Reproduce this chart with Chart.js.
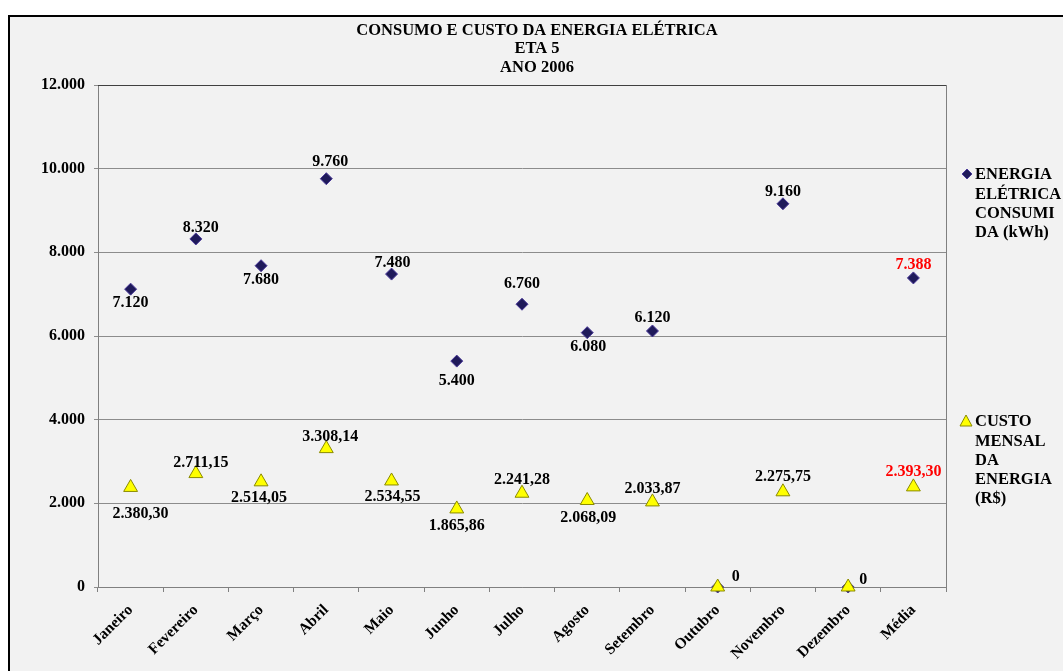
<!DOCTYPE html>
<html>
<head>
<meta charset="utf-8">
<script src="https://cdn.jsdelivr.net/npm/chart.js@4/dist/chart.umd.min.js"></script>
<style>
  html, body { margin: 0; padding: 0; background: #ffffff; overflow: hidden; }
  canvas { display: block; }
</style>
</head>
<body>
<canvas id="c" width="1063" height="671"></canvas>
<script>
const titleLines = ['CONSUMO E CUSTO DA ENERGIA ELÉTRICA', 'ETA 5', 'ANO 2006'];
const categories = ['Janeiro', 'Fevereiro', 'Março', 'Abril', 'Maio', 'Junho', 'Julho', 'Agosto', 'Setembro', 'Outubro', 'Novembro', 'Dezembro', 'Média'];
const energiaLabel = ['ENERGIA', 'ELÉTRICA', 'CONSUMI', 'DA (kWh)'];
const custoLabel = ['CUSTO', 'MENSAL', 'DA', 'ENERGIA', '(R$)'];
const energia = [7120, 8320, 7680, 9760, 7480, 5400, 6760, 6080, 6120, 0, 9160, 0, 7388];
const custo = [2380.30, 2711.15, 2514.05, 3308.14, 2534.55, 1865.86, 2241.28, 2068.09, 2033.87, 0, 2275.75, 0, 2393.30];
const yMin = 0, yMax = 12000, yStep = 2000;

function fmtThousands(n) {
  return String(Math.round(n)).replace(/\B(?=(\d{3})+(?!\d))/g, '.');
}
function fmtMoney(n) {
  if (n === 0) return '0';
  const parts = n.toFixed(2).split('.');
  return parts[0].replace(/\B(?=(\d{3})+(?!\d))/g, '.') + ',' + parts[1];
}

const SERIF = '"Liberation Serif", "Times New Roman", serif';

// label offsets relative to the point (style only)
const energiaOffsets = [[0,14],[5,-11],[0,14],[4,-17],[1,-11],[0,20],[0,-20],[1,14],[0,-13],null,[0,-12],null,[0,-13]];
const custoOffsets = [[10,26],[5,-11],[-2,16],[4,-12],[1,16],[0,17],[0,-13],[1,17],[0,-13],[18,-10],[0,-15],[15,-7],[0,-15]];

const framePlugin = {
  id: 'frame',
  beforeDraw(chart) {
    const ctx = chart.ctx;
    ctx.save();
    ctx.fillStyle = '#ffffff';
    ctx.fillRect(0, 0, chart.width, chart.height);
    ctx.fillStyle = '#f2f2f2';
    ctx.fillRect(9, 16, chart.width, chart.height);
    ctx.strokeStyle = '#000000';
    ctx.lineWidth = 2;
    ctx.beginPath();
    ctx.moveTo(9, chart.height + 5);
    ctx.lineTo(9, 16);
    ctx.lineTo(chart.width + 5, 16);
    ctx.stroke();
    ctx.restore();
  },
  afterDraw(chart) {
    const ctx = chart.ctx;
    ctx.save();
    // Title
    ctx.fillStyle = '#000000';
    ctx.font = 'bold 16.5px ' + SERIF;
    ctx.textAlign = 'center';
    ctx.textBaseline = 'middle';
    const ty = [31, 49, 68];
    titleLines.forEach((t, i) => ctx.fillText(t, 537, ty[i]));
    // Plot border right and top
    const a = chart.chartArea;
    ctx.lineWidth = 1;
    ctx.strokeStyle = '#808080';
    ctx.beginPath();
    ctx.moveTo(Math.round(a.right) + 0.5, a.top);
    ctx.lineTo(Math.round(a.right) + 0.5, a.bottom);
    ctx.stroke();
    ctx.strokeStyle = '#404040';
    ctx.beginPath();
    ctx.moveTo(a.left, Math.round(a.top) + 0.5);
    ctx.lineTo(a.right, Math.round(a.top) + 0.5);
    ctx.stroke();
    // Legend
    ctx.font = 'bold 16.5px ' + SERIF;
    ctx.textAlign = 'left';
    // diamond
    ctx.fillStyle = '#1f1a5a';
    ctx.strokeStyle = '#4b3a9a';
    ctx.beginPath();
    ctx.moveTo(967, 169); ctx.lineTo(972, 174); ctx.lineTo(967, 179); ctx.lineTo(962, 174); ctx.closePath();
    ctx.fill(); ctx.stroke();
    ctx.fillStyle = '#000000';
    energiaLabel.forEach((t, i) => ctx.fillText(t, 975, 175 + i * 19.3));
    // triangle
    ctx.fillStyle = '#ffff00';
    ctx.strokeStyle = '#8a8a00';
    ctx.beginPath();
    ctx.moveTo(966, 415); ctx.lineTo(972, 426); ctx.lineTo(960, 426); ctx.closePath();
    ctx.fill(); ctx.stroke();
    ctx.fillStyle = '#000000';
    custoLabel.forEach((t, i) => ctx.fillText(t, 975, 422 + i * 19.3));
    ctx.restore();
  },
  afterDatasetsDraw(chart) {
    const ctx = chart.ctx;
    ctx.save();
    ctx.font = 'bold 16px ' + SERIF;
    ctx.textAlign = 'center';
    ctx.textBaseline = 'middle';
    chart.data.datasets.forEach((ds, di) => {
      const meta = chart.getDatasetMeta(di);
      const offs = ds.labelOffsets;
      meta.data.forEach((pt, i) => {
        const o = offs[i];
        if (!o) return;
        const v = ds.data[i];
        const txt = ds.fmt(v);
        ctx.fillStyle = (i === ds.data.length - 1) ? '#ff0000' : '#000000';
        ctx.fillText(txt, pt.x + o[0], pt.y + o[1]);
      });
    });
    ctx.restore();
  }
};

new Chart(document.getElementById('c'), {
  type: 'line',
  data: {
    labels: categories,
    datasets: [
      {
        label: energiaLabel.join(' '),
        data: energia,
        showLine: false,
        pointStyle: 'rectRot',
        pointRadius: 6,
        pointHoverRadius: 6,
        backgroundColor: '#1f1a5a',
        borderColor: '#4b3a9a',
        pointBorderWidth: 1,
        order: 1,
        clip: false,
        labelOffsets: energiaOffsets,
        fmt: fmtThousands
      },
      {
        label: custoLabel.join(' '),
        data: custo,
        showLine: false,
        pointStyle: 'triangle',
        pointRadius: 8,
        pointHoverRadius: 8,
        backgroundColor: '#ffff00',
        borderColor: '#8a8a00',
        pointBorderWidth: 1,
        order: 0,
        clip: false,
        labelOffsets: custoOffsets,
        fmt: fmtMoney
      }
    ]
  },
  options: {
    responsive: false,
    animation: false,
    devicePixelRatio: 1,
    layout: { padding: { left: 21, right: 117, top: 85, bottom: 0 } },
    plugins: {
      legend: { display: false },
      title: { display: false },
      tooltip: { enabled: false }
    },
    scales: {
      x: {
        offset: true,
        grid: { offset: true, drawOnChartArea: false, drawTicks: true, tickLength: 5, color: '#808080' },
        border: { color: '#808080', width: 1 },
        ticks: {
          color: '#000000',
          font: { family: SERIF, size: 15.5, weight: 'bold' },
          maxRotation: 45, minRotation: 45, padding: 9, autoSkip: false
        },
        afterFit(s) { s.height = 84; }
      },
      y: {
        min: yMin, max: yMax,
        grid: { color: '#8c8c8c', tickLength: 4, drawTicks: true },
        border: { color: '#808080', width: 1 },
        ticks: {
          stepSize: yStep,
          color: '#000000',
          font: { family: SERIF, size: 16, weight: 'bold' },
          padding: 9,
          callback: (v) => fmtThousands(v)
        },
        afterFit(s) { s.width = 77; }
      }
    }
  },
  plugins: [framePlugin]
});
</script>
</body>
</html>
